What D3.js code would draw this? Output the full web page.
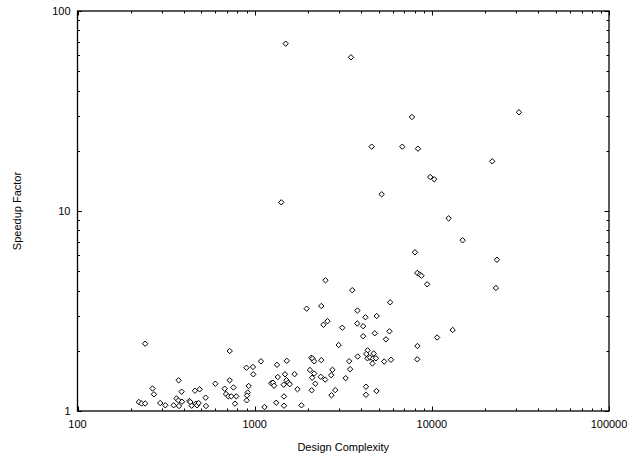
<!DOCTYPE html>
<html>
<head>
<meta charset="utf-8">
<script src="https://cdn.jsdelivr.net/npm/d3@7"></script>
<style>
  body { margin: 0; background: #fff; }
  text { font-family: "Liberation Sans", Arial, Helvetica, sans-serif; fill: #000; }
</style>
</head>
<body>
<div id="chart"></div>
<script>
// design complexity (x) and speedup factor (y)
const complexity = [
  241, 222, 230, 241, 265, 270, 293, 313, 349, 362, 372, 372, 374, 387, 389,
  428, 433, 441, 460, 465, 473, 483, 489, 529, 531, 600, 677, 689, 710, 723,
  723, 738, 759, 774, 787, 899, 901, 913, 905, 925, 978, 982, 1085, 1136, 1241,
  1269, 1288, 1323, 1336, 1350, 1463, 1463, 1458, 1483, 1518, 1512, 1548, 1578, 1680, 1744,
  1837, 1966, 2052, 2087, 2123, 2098, 2111, 2167, 2167, 2198, 2361, 2376, 2376, 2500, 2509,
  2445, 2575, 2702, 2748, 2850, 2713, 2979, 3122, 3263, 3415, 3459, 3555, 3803, 3793, 3814,
  4096, 4096, 4221, 4248, 4248, 4343, 4265, 4695, 4332, 4474, 4652, 4837, 4622, 4869, 4881,
  4763, 5381, 5508, 5764, 5817, 5878, 8293, 8272, 10710, 13110, 8029, 8272, 8566, 8736, 9408,
  14920, 23300, 23000, 12440, 9795, 10310, 21920, 5209, 4574, 6808, 8349, 7721, 31010, 3496, 1496,
  1413
];
const speedup = [
  2.17, 1.109, 1.090, 1.090, 1.296, 1.212, 1.096, 1.068, 1.068, 1.155, 1.128, 1.424, 1.059, 1.249, 1.113,
  1.122, 1.109, 1.063, 1.263, 1.088, 1.068, 1.096, 1.284, 1.166, 1.059, 1.369, 1.293, 1.216, 1.184, 1.995,
  1.424, 1.184, 1.311, 1.088, 1.184, 1.646, 1.131, 1.237, 1.195, 1.334, 1.660, 1.526, 1.772, 1.047, 1.376,
  1.385, 1.338, 1.100, 1.702, 1.479, 1.063, 1.182, 1.354, 1.526, 1.782, 1.426, 1.385, 1.361, 1.528, 1.285,
  1.068, 3.248, 1.603, 1.845, 1.830, 1.269, 1.467, 1.772, 1.540, 1.369, 1.483, 1.795, 3.350, 1.436, 4.503,
  2.698, 2.812, 1.510, 1.607, 1.271, 1.199, 2.138, 2.609, 1.459, 1.774, 1.618, 4.018, 3.181, 2.739, 1.873,
  2.655, 2.366, 2.942, 1.323, 1.205, 2.012, 1.928, 1.939, 1.834, 1.851, 1.830, 1.834, 1.728, 1.259, 2.985,
  2.446, 1.768, 2.283, 2.503, 3.495, 1.803, 2.113, 1.813, 2.331, 2.541, 6.217, 4.898, 4.814, 4.748, 4.300,
  7.137, 5.708, 4.121, 9.194, 14.79, 14.41, 17.72, 12.12, 20.97, 20.97, 20.49, 29.51, 31.16, 58.68, 68.63,
  11.05
];

const xTickValues = [100, 1000, 10000, 100000];
const yTickValues = [1, 10, 100];

const width = 639, height = 455;
const margin = { top: 11, right: 30, bottom: 44, left: 77.5 };

const svg = d3.select("#chart").append("svg")
    .attr("width", width)
    .attr("height", height);

const x = d3.scaleLog()
    .domain([100, 100000])
    .range([margin.left, width - margin.right]);

const y = d3.scaleLog()
    .domain([1, 100])
    .range([height - margin.bottom, margin.top]);

const x0 = x.range()[0], x1 = x.range()[1];
const y0 = y.range()[0], y1 = y.range()[1];

// minor ticks for each decade
const xMinor = [], yMinor = [];
for (let d = 100; d < 100000; d *= 10)
    for (let k = 2; k <= 9; k++) xMinor.push(d * k);
for (let d = 1; d < 100; d *= 10)
    for (let k = 2; k <= 9; k++) yMinor.push(d * k);

const ticks = svg.append("g").attr("stroke", "#000").attr("stroke-width", 1);

function xTick(v, len) {
    const px = Math.round(x(v)) + 0.5;
    ticks.append("line").attr("x1", px).attr("x2", px).attr("y1", y0).attr("y2", y0 - len);
    ticks.append("line").attr("x1", px).attr("x2", px).attr("y1", y1).attr("y2", y1 + len);
}
function yTick(v, len) {
    const py = Math.round(y(v)) + 0.5;
    ticks.append("line").attr("y1", py).attr("y2", py).attr("x1", x0).attr("x2", x0 + len);
    ticks.append("line").attr("y1", py).attr("y2", py).attr("x1", x1).attr("x2", x1 - len);
}
xMinor.forEach(v => xTick(v, 2.5));
xTickValues.forEach(v => xTick(v, 4.5));
yMinor.forEach(v => yTick(v, 2.5));
yTickValues.forEach(v => yTick(v, 4.5));

// frame
svg.append("rect")
    .attr("x", x0).attr("y", y1)
    .attr("width", x1 - x0).attr("height", y0 - y1)
    .attr("fill", "none")
    .attr("stroke", "#000")
    .attr("stroke-width", 1.3);

// tick labels
svg.append("g").selectAll("text")
    .data(xTickValues)
    .join("text")
    .attr("x", d => x(d))
    .attr("y", y0 + 17)
    .attr("text-anchor", "middle")
    .attr("font-size", 11)
    .text(d => d);

svg.append("g").selectAll("text")
    .data(yTickValues)
    .join("text")
    .attr("x", x0 - 7)
    .attr("y", d => y(d))
    .attr("dy", "0.36em")
    .attr("text-anchor", "end")
    .attr("font-size", 11)
    .text(d => d);

// axis titles
svg.append("text")
    .attr("x", (x0 + x1) / 2)
    .attr("y", 451)
    .attr("text-anchor", "middle")
    .attr("font-size", 11)
    .text("Design Complexity");

svg.append("text")
    .attr("transform", `translate(21,${(y0 + y1) / 2}) rotate(-90)`)
    .attr("text-anchor", "middle")
    .attr("font-size", 11)
    .text("Speedup Factor");

// diamond markers
const r = 2.7;
const diamond = `M0,${-r}L${r},0L0,${r}L${-r},0Z`;

svg.append("g")
    .selectAll("path")
    .data(d3.range(complexity.length))
    .join("path")
    .attr("d", diamond)
    .attr("transform", i => `translate(${x(complexity[i])},${y(speedup[i])})`)
    .attr("fill", "#fff")
    .attr("stroke", "#000")
    .attr("stroke-width", 1);
</script>
</body>
</html>
